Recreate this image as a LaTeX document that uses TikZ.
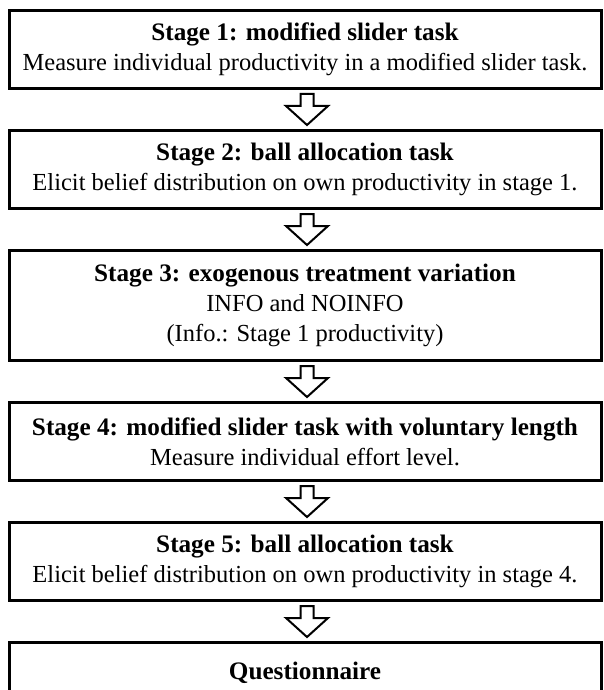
\documentclass[tikz,border=0pt]{standalone}
\usepackage{fontspec}
\setmainfont{Liberation Serif}
\usetikzlibrary{calc}
\newcommand\stagehead[1]{{\fontsize{25.2}{30}\selectfont\bfseries #1}}
\tikzset{
  stagebox/.style={draw, line width=3pt, minimum width=592pt, minimum height=78pt,
    align=center, inner sep=0pt, anchor=north, font=\fontsize{24.5}{30}\selectfont},
  flowarrow/.style={draw, line width=2pt, fill=white, line join=miter}
}
\newcommand\blockarrow[2]{%
  \draw[flowarrow] let \p1=(#1.south), \p2=(#2.north) in
    (\x1-4.5pt,\y1-4pt) -- (\x1+8.5pt,\y1-4pt) -- (\x1+8.5pt,\y1-16pt)
    -- (\x1+23pt,\y1-16pt) -- (\x1+2pt,\y2+4pt) -- (\x1-19pt,\y1-16pt)
    -- (\x1-4.5pt,\y1-16pt) -- cycle;}
\begin{document}
\begin{tikzpicture}[x=1pt,y=1pt]
  \useasboundingbox (0,0) rectangle (603,-690);
  \clip (0,0) rectangle (603,-690);
  \node[stagebox] (s1) at (305,-9) {\stagehead{Stage 1: modified slider task}\\Measure individual productivity in a modified slider task.};
  \node[stagebox] (s2) at (305,-129) {\stagehead{Stage 2: ball allocation task}\\Elicit belief distribution on own productivity in stage 1.};
  \node[stagebox, minimum height=110pt] (s3) at (305,-249) {\stagehead{Stage 3: exogenous treatment variation}\\INFO and NOINFO\\(Info.: Stage 1 productivity)};
  \node[stagebox] (s4) at (305,-401) {\stagehead{Stage 4: modified slider task with voluntary length}\\Measure individual effort level.};
  \node[stagebox] (s5) at (305,-521) {\stagehead{Stage 5: ball allocation task}\\Elicit belief distribution on own productivity in stage 4.};
  \node[stagebox, minimum height=60pt] (s6) at (305,-641) {\stagehead{Questionnaire}};
  \blockarrow{s1}{s2}
  \blockarrow{s2}{s3}
  \blockarrow{s3}{s4}
  \blockarrow{s4}{s5}
  \blockarrow{s5}{s6}
\end{tikzpicture}
\end{document}
